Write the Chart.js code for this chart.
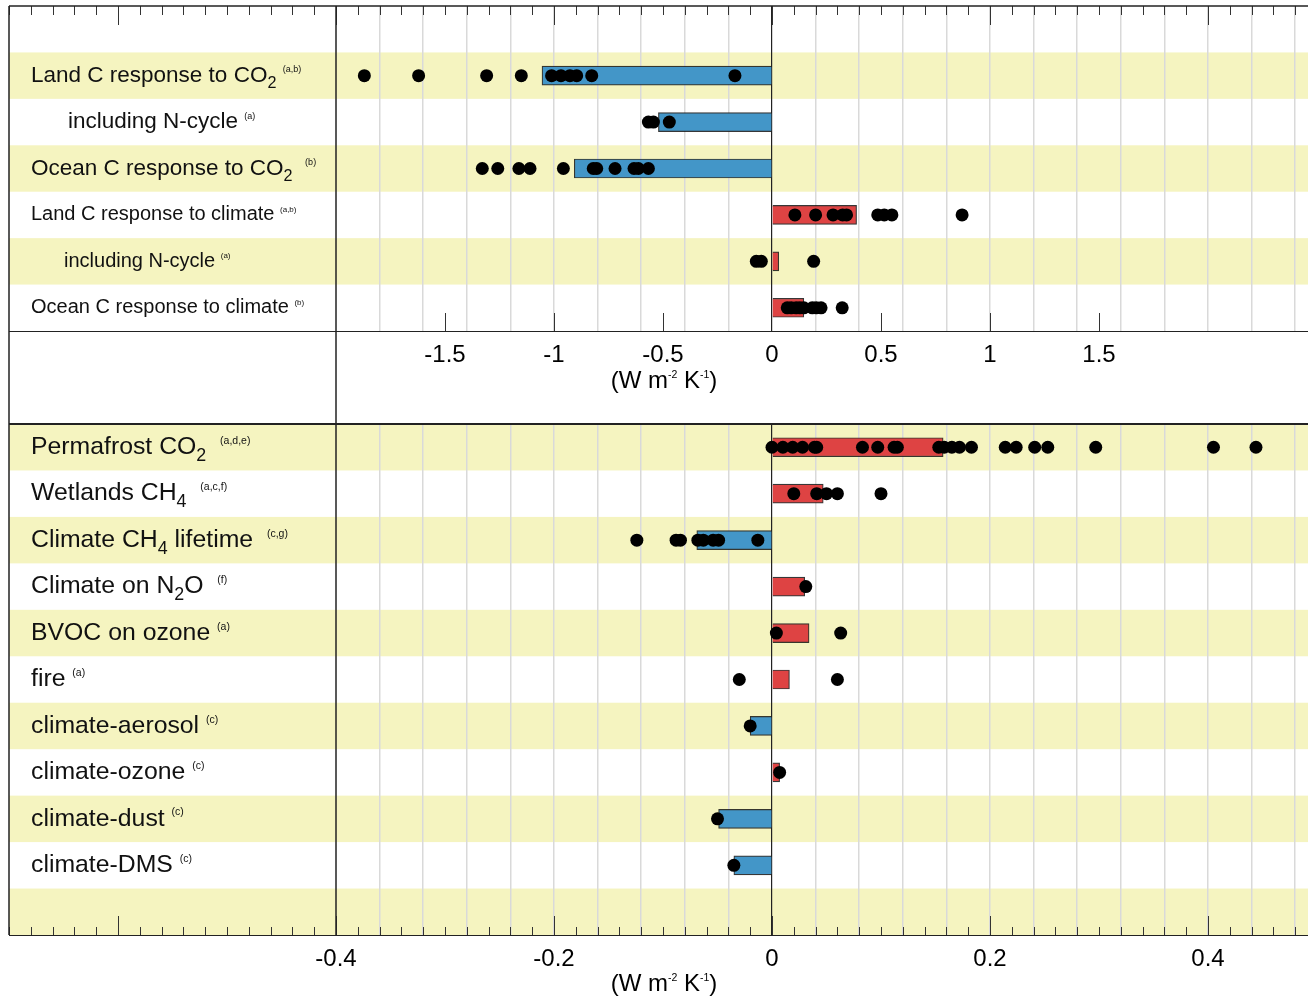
<!DOCTYPE html>
<html>
<head>
<meta charset="utf-8">
<title>Feedback parameters</title>
<script src="https://cdn.jsdelivr.net/npm/chart.js@4.4.1/dist/chart.umd.min.js"></script>
<style>
  html, body { margin: 0; padding: 0; background: #fff; }
  #wrap { position: relative; width: 1308px; height: 998px; overflow: hidden; }
  #wrap canvas { position: absolute; left: 0; }
  #top-panel { top: 0; }
  #bottom-panel { top: 420px; }
</style>
</head>
<body>
<div id="wrap">
  <canvas id="top-panel" width="1308" height="420"></canvas>
  <canvas id="bottom-panel" width="1308" height="578"></canvas>
</div>
<script>
// Top panel: carbon cycle feedbacks (_{..} = subscript, ^{..} = superscript)
const topLabels = [
  "",
  "Land C response to CO_{2} ^{(a,b)}",
  "including N-cycle ^{(a)}",
  "Ocean C response to CO_{2}  ^{(b)}",
  "Land C response to climate ^{(a,b)}",
  "including N-cycle ^{(a)}",
  "Ocean C response to climate ^{(b)}",
]
const topBars = [null, -1.055, -0.521, -0.907, 0.388, 0.031, 0.146]
const topModels = [
  [],
  [-1.87, -1.621, -1.309, -1.15, -1.011, -0.968, -0.927, -0.896, -0.827, -0.17],
  [-0.567, -0.544, -0.471],
  [-1.329, -1.258, -1.161, -1.11, -0.957, -0.82, -0.804, -0.72, -0.633, -0.613, -0.567],
  [0.105, 0.2, 0.28, 0.324, 0.342, 0.485, 0.515, 0.55, 0.872],
  [-0.072, -0.049, 0.191],
  [0.07, 0.088, 0.111, 0.128, 0.146, 0.185, 0.203, 0.225, 0.322],
]
const topTickLabels = [-1.5, -1, -0.5, 0, 0.5, 1, 1.5]

// Bottom panel: other biogeochemical feedbacks
const bottomLabels = [
  "Permafrost CO_{2}  ^{(a,d,e)}",
  "Wetlands CH_{4}  ^{(a,c,f)}",
  "Climate CH_{4} lifetime  ^{(c,g)}",
  "Climate on N_{2}O  ^{(f)}",
  "BVOC on ozone ^{(a)}",
  "fire ^{(a)}",
  "climate-aerosol ^{(c)}",
  "climate-ozone ^{(c)}",
  "climate-dust ^{(c)}",
  "climate-DMS ^{(c)}",
  "",
]
const bottomBars = [0.157, 0.047, -0.069, 0.03, 0.034, 0.016, -0.02, 0.007, -0.049, -0.035, null]
const bottomModels = [
  [0.0, 0.01, 0.019, 0.028, 0.039, 0.041, 0.083, 0.097, 0.112, 0.115, 0.153, 0.158,
   0.165, 0.172, 0.183, 0.214, 0.224, 0.241, 0.253, 0.297, 0.405, 0.444],
  [0.02, 0.041, 0.05, 0.06, 0.1],
  [-0.124, -0.088, -0.084, -0.068, -0.063, -0.054, -0.049, -0.013],
  [0.031],
  [0.004, 0.063],
  [-0.03, 0.06],
  [-0.02],
  [0.007],
  [-0.05],
  [-0.035],
  [],
]
const bottomTickLabels = [-0.4, -0.2, 0, 0.2, 0.4]

const axisTitle = "(W m^{-2} K^{-1})"

// Look
const FONT = '"Liberation Sans", Arial, Helvetica, sans-serif'
const BLUE = "#4396c8"
const RED = "#de4343"
const STRIPE = "#f5f4c0"
const GRID = "#d9d9d9"
const LINE = "#333"

const topStyle = {
  min: -3.5, max: 2.4587, divider: -2, gridStep: 0.2,
  padTop: 6, axisHeight: 89, stripeOdd: true, topLine: 1.5,
  fontSizes: [22, 22.5, 22.5, 22.5, 20, 20, 20],
  supSizes: [9, 9, 9, 9, 8, 8, 8],
  indents: [31, 31, 68, 31, 31, 64, 31],
  edgeTicks: { edge: "top", minor: 0.1, major: 1, minorLen: 9, majorLen: 19 },
  labelTicks: true, frameTo: "bottom", titleBaseline: 388,
}
const bottomStyle = {
  min: -0.7, max: 0.49174, divider: -0.4, gridStep: 0.04,
  padTop: 4, axisHeight: 63, stripeOdd: false, topLine: 2.2,
  fontSizes: bottomLabels.map(() => 24.8),
  supSizes: bottomLabels.map(() => 10.5),
  indents: bottomLabels.map(() => 31),
  edgeTicks: { edge: "bottom", minor: 0.02, major: 0.2, minorLen: 8, majorLen: 19 },
  labelTicks: false, frameTo: "top", titleBaseline: 571,
}

// Split "CO_{2} ^{(a)}" into normal / sub / sup runs
function richParts(str) {
  const parts = []
  const re = /([_^])\{([^}]*)\}/g
  let last = 0
  let m
  while ((m = re.exec(str))) {
    if (m.index > last) parts.push({ text: str.slice(last, m.index), kind: "normal" })
    parts.push({ text: m[2], kind: m[1] === "_" ? "sub" : "sup" })
    last = re.lastIndex
  }
  if (last < str.length) parts.push({ text: str.slice(last), kind: "normal" })
  return parts
}

function drawRich(ctx, str, x, baseline, size, supSize, align) {
  const parts = richParts(str)
  const sizeOf = (k) => (k === "normal" ? size : k === "sub" ? size * 0.72 : supSize)
  let width = 0
  parts.forEach((p) => {
    ctx.font = `${sizeOf(p.kind)}px ${FONT}`
    p.w = ctx.measureText(p.text).width
    width += p.w
  })
  let cx = align === "center" ? x - width / 2 : x
  ctx.textAlign = "left"
  ctx.textBaseline = "alphabetic"
  parts.forEach((p) => {
    ctx.font = `${sizeOf(p.kind)}px ${FONT}`
    let y = baseline
    if (p.kind === "sub") y += size * 0.27
    if (p.kind === "sup") y = baseline - size * 0.716 + supSize * 0.73
    ctx.fillText(p.text, cx, y)
    cx += p.w
  })
}

const near = (a, b) => Math.abs(a - b) < 1e-6

// Stripes, frame, tick marks, row labels and axis title
function panelPlugin(labels, tickLabels, s) {
  return {
    id: "panelDecor",
    beforeDraw(chart) {
      const { ctx, chartArea: area } = chart
      const yScale = chart.scales.y
      const rowH = (area.bottom - area.top) / labels.length
      ctx.save()
      ctx.fillStyle = "#fff"
      ctx.fillRect(0, 0, chart.width, chart.height)
      ctx.fillStyle = STRIPE
      labels.forEach((_, i) => {
        if ((i % 2 === 1) !== s.stripeOdd) return
        const yc = yScale.getPixelForValue(i)
        ctx.fillRect(area.left, yc - rowH / 2, area.right - area.left, rowH)
      })
      ctx.restore()
    },
    afterDraw(chart) {
      const { ctx, chartArea: area } = chart
      const x = chart.scales.x
      const yScale = chart.scales.y
      ctx.save()
      ctx.strokeStyle = LINE

      // tick marks on the outer edge
      const e = s.edgeTicks
      const every = Math.round(e.major / e.minor)
      const kMin = Math.ceil(x.min / e.minor - 1e-6)
      const kMax = Math.floor(x.max / e.minor + 1e-6)
      const y0 = e.edge === "top" ? area.top : area.bottom
      const dir = e.edge === "top" ? 1 : -1
      ctx.lineWidth = 1
      ctx.beginPath()
      for (let k = kMin; k <= kMax; k++) {
        const px = Math.round(x.getPixelForValue(k * e.minor)) + 0.5
        const len = k % every === 0 ? e.majorLen : e.minorLen
        ctx.moveTo(px, y0)
        ctx.lineTo(px, y0 + dir * len)
      }
      ctx.stroke()

      // long ticks above the labelled values
      if (s.labelTicks) {
        ctx.beginPath()
        tickLabels.forEach((v) => {
          if (v === 0) return
          const px = Math.round(x.getPixelForValue(v)) + 0.5
          ctx.moveTo(px, area.bottom)
          ctx.lineTo(px, area.bottom - 18)
        })
        ctx.stroke()
      }

      // frame: outer left border and label divider
      const fy0 = s.frameTo === "bottom" ? area.top : 0
      const fy1 = s.frameTo === "bottom" ? chart.height : area.bottom
      ctx.lineWidth = 1.5
      ctx.strokeStyle = "#222"
      ;[area.left, x.getPixelForValue(s.divider)].forEach((px) => {
        ctx.beginPath()
        ctx.moveTo(Math.round(px), fy0)
        ctx.lineTo(Math.round(px), fy1)
        ctx.stroke()
      })
      ctx.lineWidth = s.topLine
      ctx.beginPath()
      ctx.moveTo(area.left, area.top)
      ctx.lineTo(area.right, area.top)
      ctx.stroke()
      ctx.lineWidth = 1.2
      ctx.beginPath()
      ctx.moveTo(area.left, Math.round(area.bottom) + 0.5)
      ctx.lineTo(area.right, Math.round(area.bottom) + 0.5)
      ctx.stroke()

      // row labels
      ctx.fillStyle = "#111"
      labels.forEach((label, i) => {
        if (!label) return
        const size = s.fontSizes[i]
        const yc = yScale.getPixelForValue(i)
        drawRich(ctx, label, s.indents[i], yc + size * 0.27, size, s.supSizes[i], "left")
      })

      // axis title
      ctx.fillStyle = "#000"
      drawRich(ctx, axisTitle, 664, s.titleBaseline, 24, 10.5, "center")
      ctx.restore()
    },
  }
}

function makePanel(canvasId, labels, bars, models, tickLabels, s) {
  const ctx = document.getElementById(canvasId).getContext("2d")
  const rowNames = labels.map((_, i) => "row" + i)

  // one point per model, placed on its row
  const dots = []
  models.forEach((vals, row) => vals.forEach((v) => dots.push({ x: v, y: rowNames[row] })))

  // grid every step from the divider on, plus the labelled values
  const gridValues = []
  for (let k = 0; s.divider + k * s.gridStep <= s.max + 1e-9; k++) {
    gridValues.push(Math.round((s.divider + k * s.gridStep) * 1e6) / 1e6)
  }
  const tickValues = Array.from(new Set(gridValues.concat(tickLabels))).sort((a, b) => a - b)

  return new Chart(ctx, {
    type: "bar",
    data: {
      labels: rowNames,
      datasets: [
        {
          type: "scatter",
          data: dots,
          backgroundColor: "#000",
          borderWidth: 0,
          pointRadius: 6.5,
          pointHoverRadius: 6.5,
          order: 1,
        },
        {
          type: "bar",
          data: bars,
          backgroundColor: bars.map((v) => (v < 0 ? BLUE : RED)),
          borderColor: "rgba(20,20,20,0.85)",
          borderWidth: 1.2,
          barThickness: 19,
          order: 2,
        },
      ],
    },
    options: {
      indexAxis: "y",
      responsive: false,
      animation: false,
      events: [],
      layout: { autoPadding: false, padding: { left: 9, top: s.padTop, right: 0, bottom: 0 } },
      plugins: { legend: { display: false }, tooltip: { enabled: false } },
      scales: {
        y: { type: "category", display: false, offset: true },
        x: {
          type: "linear",
          min: s.min,
          max: s.max,
          afterFit: (scale) => {
            scale.height = s.axisHeight
          },
          afterBuildTicks: (scale) => {
            scale.ticks = tickValues.map((v) => ({ value: v }))
          },
          border: { display: false },
          grid: {
            drawTicks: false,
            color: (c) => {
              const v = c.tick.value
              if (near(v, 0)) return "#222"
              if (near(v, s.divider)) return "rgba(0,0,0,0)"
              return gridValues.some((g) => near(g, v)) ? GRID : "rgba(0,0,0,0)"
            },
            lineWidth: (c) => (near(c.tick.value, 0) ? 1.2 : 1.5),
          },
          ticks: {
            autoSkip: false,
            maxRotation: 0,
            padding: 10,
            color: "#000",
            font: { family: FONT, size: 24 },
            callback: (value) => (tickLabels.some((t) => near(t, value)) ? String(value) : ""),
          },
        },
      },
    },
    plugins: [panelPlugin(labels, tickLabels, s)],
  })
}

makePanel("top-panel", topLabels, topBars, topModels, topTickLabels, topStyle)
makePanel("bottom-panel", bottomLabels, bottomBars, bottomModels, bottomTickLabels, bottomStyle)
</script>
</body>
</html>
